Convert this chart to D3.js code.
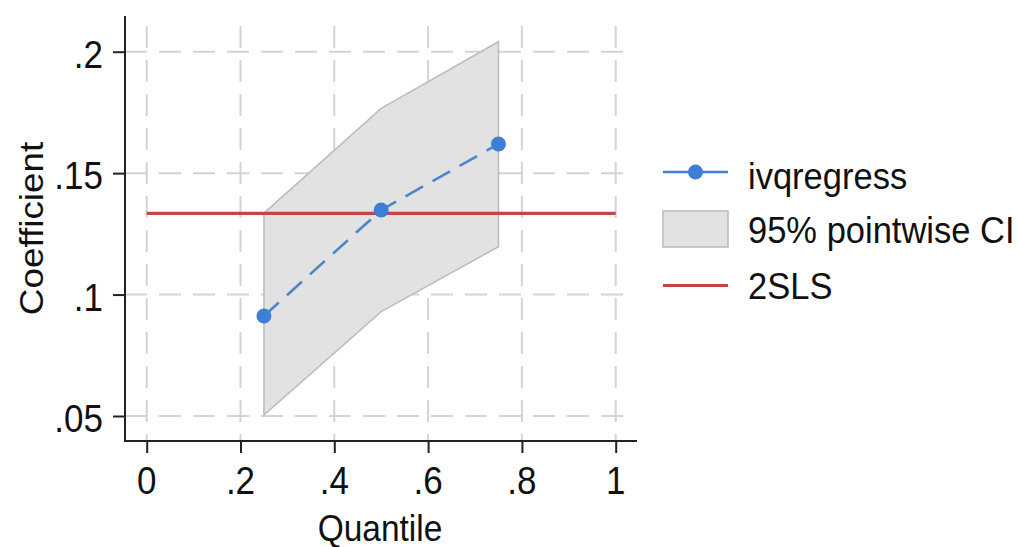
<!DOCTYPE html>
<html><head><meta charset="utf-8">
<script src="https://cdn.jsdelivr.net/npm/d3@7"></script>
<style>
html,body{margin:0;padding:0;background:#fff;}
svg{display:block;font-family:"Liberation Sans",Arial,Helvetica,sans-serif;}
</style></head>
<body>
<svg id="chart" width="1018" height="547"></svg>
<script>
// ---- data ----
const quantiles = [0.25, 0.5, 0.75];
const coefs = [0.0912, 0.1348, 0.1620];
const ciLower = [0.0504, 0.0930, 0.1197];
const ciUpper = [0.1335, 0.1767, 0.2041];
const tslsValue = 0.1334;
const tslsRange = [0, 1];
const xTicks = [0, 0.2, 0.4, 0.6, 0.8, 1];
const xTickLabels = ["0", ".2", ".4", ".6", ".8", "1"];
const yTicks = [0.05, 0.1, 0.15, 0.2];
const yTickLabels = [".05", ".1", ".15", ".2"];
const legendLabels = ["ivqregress", "95% pointwise CI", "2SLS"];

// ---- layout ----
const svg = d3.select("#chart");
const axisLeft = 125, axisRight = 637, axisTop = 16, axisBottom = 441;
const x = d3.scaleLinear().domain([0, 1]).range([146.7, 615.7]);
const y = d3.scaleLinear().domain([0.05, 0.2]).range([416, 51.7]);

const blue = "#3d7fd6", red = "#c9424a", gridCol = "#d3d3d3", ink = "#111";

function stretchedText(parent, tx, ty, str, size, anchor, sy, rot) {
  return parent.append("text")
    .attr("transform", `translate(${tx},${ty})` + (rot ? ` rotate(${rot})` : "") + ` scale(${rot ? sy : 1},${rot ? 1 : sy})`)
    .attr("text-anchor", anchor).attr("font-size", size).attr("fill", ink).text(str);
}

// grid
const g = svg.append("g");
g.selectAll("line.hg").data(yTicks).enter().append("line")
  .attr("x1", axisLeft).attr("x2", 625)
  .attr("y1", d => y(d)).attr("y2", d => y(d))
  .attr("stroke", gridCol).attr("stroke-width", 2).attr("stroke-dasharray", "22,12");
g.selectAll("line.vg").data(xTicks).enter().append("line")
  .attr("x1", d => x(d)).attr("x2", d => x(d))
  .attr("y1", 26).attr("y2", axisBottom)
  .attr("stroke", gridCol).attr("stroke-width", 2).attr("stroke-dasharray", "22,12");

// CI band
const ciData = quantiles.map((q, i) => ({q, lo: ciLower[i], hi: ciUpper[i]}));
const area = d3.area().x(d => x(d.q)).y0(d => y(d.lo)).y1(d => y(d.hi));
svg.append("path").datum(ciData).attr("d", area)
  .attr("fill", "#e2e2e2").attr("stroke", "#bdbdbd").attr("stroke-width", 1.6);

// 2SLS line
svg.append("line")
  .attr("x1", x(tslsRange[0])).attr("x2", x(tslsRange[1]))
  .attr("y1", y(tslsValue)).attr("y2", y(tslsValue))
  .attr("stroke", red).attr("stroke-width", 3.2);

// ivqregress line + points
const pts = quantiles.map((q, i) => ({q, v: coefs[i]}));
svg.append("path").datum(pts)
  .attr("d", d3.line().x(d => x(d.q)).y(d => y(d.v)))
  .attr("fill", "none").attr("stroke", "#4a86c9").attr("stroke-width", 2.6)
  .attr("stroke-dasharray", "20,11");
svg.selectAll("circle.pt").data(pts).enter().append("circle")
  .attr("cx", d => x(d.q)).attr("cy", d => y(d.v)).attr("r", 7.5)
  .attr("fill", blue);

// axes (ticks via d3 axis, labels drawn from the tick arrays)
const xAxis = d3.axisBottom(x).tickValues(xTicks).tickFormat("").tickSize(12).tickSizeOuter(0);
const xg = svg.append("g").attr("transform", `translate(0,${axisBottom})`).call(xAxis);
xg.select(".domain").remove();
xg.selectAll(".tick text").remove();
xg.append("line").attr("x1", axisLeft).attr("x2", axisRight).attr("stroke", "#222").attr("stroke-width", 2);
xg.selectAll(".tick line").attr("stroke", "#222").attr("stroke-width", 2);
xTicks.forEach((d, i) => stretchedText(svg, x(d), 494, xTickLabels[i], 35, "middle", 1.1));

const yAxis = d3.axisLeft(y).tickValues(yTicks).tickFormat("").tickSize(12).tickSizeOuter(0);
const yg = svg.append("g").attr("transform", `translate(${axisLeft},0)`).call(yAxis);
yg.select(".domain").remove();
yg.selectAll(".tick text").remove();
yg.append("line").attr("y1", axisTop).attr("y2", axisBottom + 1).attr("stroke", "#222").attr("stroke-width", 2);
yg.selectAll(".tick line").attr("stroke", "#222").attr("stroke-width", 2);
yTicks.forEach((d, i) => stretchedText(svg, 103, y(d) + 16, yTickLabels[i], 35, "end", 1.1));

// axis titles
stretchedText(svg, 380, 541, "Quantile", 33.5, "middle", 1.1);
stretchedText(svg, 43, (axisTop + axisBottom) / 2, "Coefficient", 33.5, "middle", 1.1, -90);

// legend
const lx0 = 663, lx1 = 728, tx = 748;
const leg = svg.append("g");
leg.append("line").attr("x1", lx0).attr("x2", lx1).attr("y1", 172).attr("y2", 172)
  .attr("stroke", blue).attr("stroke-width", 2.6);
leg.append("circle").attr("cx", (lx0 + lx1) / 2).attr("cy", 172).attr("r", 7.5).attr("fill", blue);
leg.append("rect").attr("x", lx0).attr("y", 211).attr("width", lx1 - lx0).attr("height", 36)
  .attr("fill", "#e2e2e2").attr("stroke", "#bdbdbd").attr("stroke-width", 1.6);
leg.append("line").attr("x1", lx0).attr("x2", lx1).attr("y1", 285.5).attr("y2", 285.5)
  .attr("stroke", red).attr("stroke-width", 3.2);
const baselines = [189, 243, 299];
legendLabels.forEach((d, i) => stretchedText(leg, tx, baselines[i], d, 34.5, "start", 1.06));
</script>
</body></html>
